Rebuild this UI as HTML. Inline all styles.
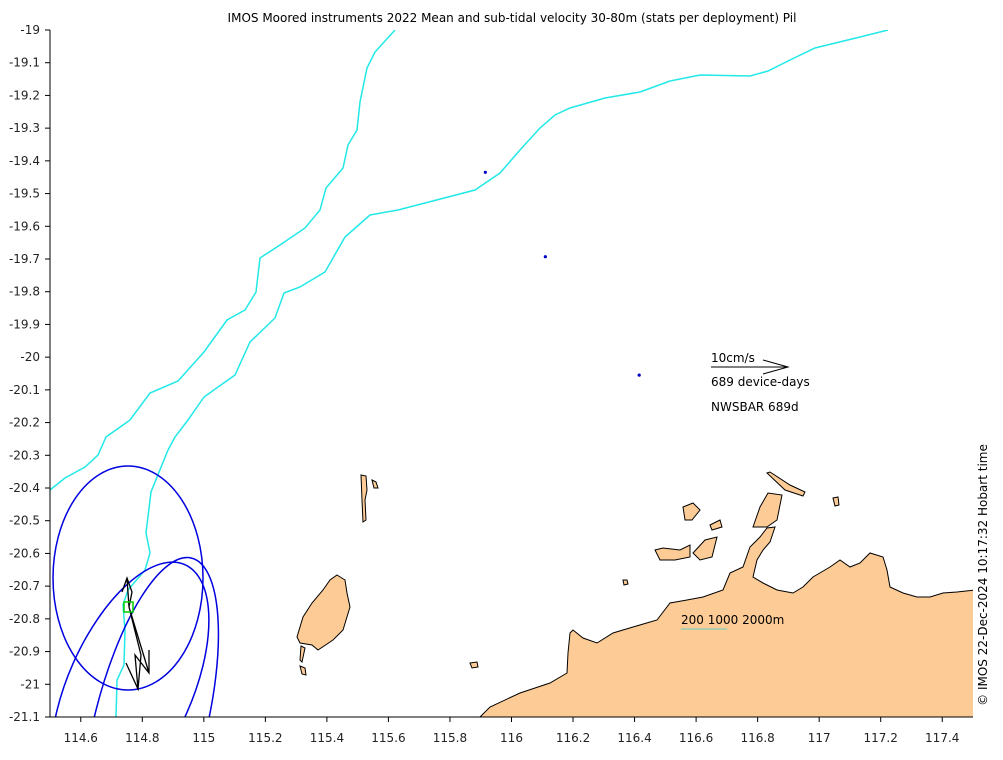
<!DOCTYPE html>
<html><head><meta charset="utf-8"><style>
html,body{margin:0;background:#fff;width:1003px;height:760px;overflow:hidden}
svg{display:block;font-family:"DejaVu Sans","Liberation Sans",sans-serif}
</style></head><body>
<svg id="chart" width="1003" height="760" viewBox="0 0 1003 760">
<text x="512" y="22" font-size="12" text-anchor="middle">IMOS Moored instruments 2022 Mean and sub-tidal velocity 30-80m (stats per deployment) Pil</text>
<defs><clipPath id="pc"><rect x="50" y="30" width="923" height="687"/></clipPath></defs>
<g id="plot" clip-path="url(#pc)"></g>
<g id="axes"></g>
<text transform="translate(987,575) rotate(-90)" font-size="12" text-anchor="middle">© IMOS 22-Dec-2024 10:17:32 Hobart time</text>
</svg>
<script>
const xTicks=[114.6,114.8,115,115.2,115.4,115.6,115.8,116,116.2,116.4,116.6,116.8,117,117.2,117.4];
const yTicks=[-19,-19.1,-19.2,-19.3,-19.4,-19.5,-19.6,-19.7,-19.8,-19.9,-20,-20.1,-20.2,-20.3,-20.4,-20.5,-20.6,-20.7,-20.8,-20.9,-21,-21.1];
const mooringLon=[115.915,116.11,116.415];
const mooringLat=[-19.435,-19.693,-20.055];
const X0=114.5,X1=117.5,Y0=-19,Y1=-21.1;
function sx(v){return 50+(v-X0)/(X1-X0)*923;}
function sy(v){return 30+(v-Y0)/(Y1-Y0)*687;}
const NS='http://www.w3.org/2000/svg';
function mk(t,a,p){const e=document.createElementNS(NS,t);for(const k in a)e.setAttribute(k,a[k]);p.appendChild(e);return e;}
const plot=document.getElementById('plot'),axes=document.getElementById('axes');
const land=[
[[480,717],[490,707],[520,693],[550,683],[567,673],[568,653],[570,633],[573,630],[583,638],[597,643],[613,633],[633,627],[657,620],[670,603],[687,600],[703,597],[723,590],[730,573],[743,567],[750,547],[760,537],[767,528],[775,527],[770,542],[763,550],[757,560],[753,577],[763,583],[777,590],[793,593],[803,587],[813,577],[830,567],[840,560],[850,567],[860,563],[870,553],[883,557],[887,570],[890,587],[903,593],[917,597],[930,597],[943,593],[957,592],[975,590],[975,720],[480,720]],
[[753,527],[760,507],[768,493],[782,495],[777,520],[767,527]],
[[767,473],[770,472],[790,485],[805,492],[803,496],[785,490]],
[[655,550],[663,548],[680,550],[690,545],[690,557],[675,560],[660,560]],
[[683,507],[693,503],[700,510],[692,520],[685,520]],
[[693,553],[705,540],[717,537],[712,557],[700,560]],
[[710,525],[720,520],[722,527],[712,530]],
[[337,575],[345,580],[347,593],[350,607],[343,630],[333,640],[318,650],[312,645],[300,643],[297,637],[303,617],[312,603],[323,590],[330,580]],
[[301,646],[305,648],[302,662],[300,660]],[[300,666],[305,668],[306,675],[302,674]],
[[361,475],[366,476],[367,490],[365,500],[366,520],[363,522],[362,500]],
[[372,480],[376,482],[378,488],[374,488]],
[[470,663],[477,662],[478,667],[472,668]],[[833,498],[838,497],[839,505],[835,506]],
[[623,580],[627,580],[628,584],[624,585]]];
land.forEach((p,i)=>{const e=mk('polygon',{points:p.map(q=>q.join(',')).join(' '),fill:'#fdcb96',stroke:'#000','stroke-width':1},plot);

});
const c1=[[50,490],[65,478],[85,467],[98,455],[106,437],[130,420],[150,393],[178,381],[204,352],[227,320],[245,310],[256,292],[260,258],[280,245],[305,228],[320,210],[326,188],[343,168],[348,145],[357,130],[360,102],[367,68],[375,52],[395,30]];
const c2=[[116,717],[117,680],[124,665],[125,630],[123,605],[128,590],[145,570],[150,553],[146,533],[151,492],[168,450],[175,437],[188,420],[204,397],[235,375],[250,342],[275,318],[284,293],[300,287],[325,272],[345,237],[370,215],[398,210],[425,203],[475,190],[500,173],[520,150],[540,128],[555,115],[570,108],[605,98],[640,92],[670,81],[700,75],[750,76],[768,71],[790,60],[815,48],[860,37],[888,30]];
[c1,c2].forEach((c,i)=>{const e=mk('polyline',{points:c.map(q=>q.join(',')).join(' '),fill:'none',stroke:'#22e8e8','stroke-width':1.5},plot);

});
const ell=[[128,578,75,112,0],[130,688,62,135,24],[150,725,56,172,14]];
ell.forEach((a,i)=>{const e=mk('ellipse',{cx:a[0],cy:a[1],rx:a[2],ry:a[3],transform:`rotate(${a[4]} ${a[0]} ${a[1]})`,fill:'none',stroke:'#0000e0','stroke-width':1.5},plot);

});
const v=mk('polyline',{points:'129,607 127,578 122,592 127,578 132,592 129,607 149,673 149,650 149,673 135,655 138,689 126,663 138,689 141,655 129,607',fill:'none',stroke:'#000','stroke-width':1.3},plot);


const g=mk('rect',{x:124,y:602,width:9,height:10,fill:'none',stroke:'#00cc00','stroke-width':1.5},plot);


mooringLon.forEach((lon,i)=>{const e=mk('circle',{cx:sx(lon),cy:sy(mooringLat[i]),r:1.6,fill:'#0000cc'},plot);

});
const lg=mk('g',{},plot);
mk('polyline',{points:'711,367 788,367 763,360 788,367 763,374',fill:'none',stroke:'#000','stroke-width':1},lg);
const t1=mk('text',{x:711,y:362,'font-size':12},lg);t1.textContent='10cm/s';
const t2=mk('text',{x:711,y:386,'font-size':12},lg);t2.textContent='689 device-days';
const t3=mk('text',{x:711,y:411,'font-size':12},lg);t3.textContent='NWSBAR 689d';
const bl=mk('g',{},plot);
const t4=mk('text',{x:681,y:624,'font-size':12},bl);t4.textContent='200 1000 2000m';
mk('line',{x1:681,y1:629,x2:727,y2:629,stroke:'#60d0c0','stroke-width':1},bl);
const ax=mk('path',{d:'M50,30 V717 H973',fill:'none',stroke:'#000','stroke-width':1},axes);

xTicks.forEach(t=>{const x=sx(t);mk('line',{x1:x,y1:717,x2:x,y2:722,stroke:'#000'},axes);
const e=mk('text',{x:x,y:742,'font-size':12,'text-anchor':'middle',fill:'#222'},axes);e.textContent=String(t);

});
yTicks.forEach(t=>{const y=sy(t);mk('line',{x1:45,y1:y,x2:50,y2:y,stroke:'#000'},axes);
const e=mk('text',{x:40,y:y+4,'font-size':12,'text-anchor':'end',fill:'#222'},axes);e.textContent=String(t);

});
</script>
</body></html>
